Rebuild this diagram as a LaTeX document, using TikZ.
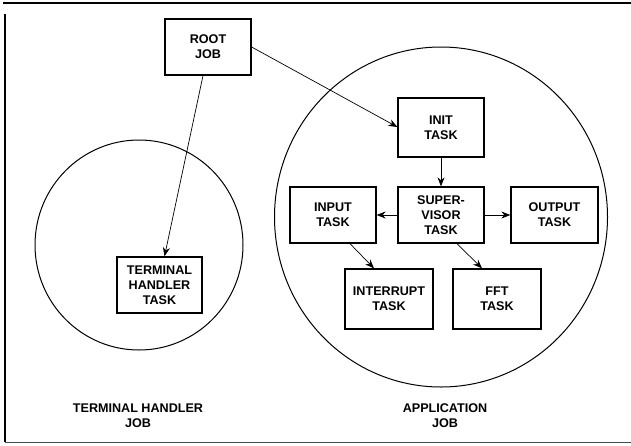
\documentclass[tikz,border=0pt]{standalone}
\usepackage{fontspec}
\setmainfont{Liberation Sans}
\usetikzlibrary{arrows.meta,shapes.geometric}
\begin{document}
\begin{tikzpicture}[x=1pt,y=-1pt,
  taskbox/.style={draw,line width=1.3pt,minimum width=86pt,minimum height=56pt,align=center,font=\bfseries\fontsize{12.6}{15}\selectfont,inner sep=0pt},
  conn/.style={line width=0.7pt,-{Stealth[length=9pt,width=7pt]}},
  lbl/.style={align=center,font=\bfseries\fontsize{12.6}{15}\selectfont}]
\useasboundingbox (0,0) rectangle (631,445);
% frame
\draw[line width=1.3pt] (3,3) -- (631,3);
\draw[line width=1.3pt] (5,14) -- (5,442);
\draw[line width=0.8pt,black!70] (5,442) -- (631,442);
% job circles
\node[draw,line width=1pt,ellipse,minimum width=208pt,minimum height=210pt,inner sep=0pt] (thjob) at (139,245) {};
\node[draw,line width=1pt,ellipse,minimum width=333pt,minimum height=340pt,inner sep=0pt] (appjob) at (441,217) {};
% boxes
\node[taskbox] (root) at (208,47) {ROOT\\JOB};
\node[taskbox,minimum height=59pt] (init) at (441,127.5) {INIT\\TASK};
\node[taskbox] (sup) at (441,215) {SUPER-\\VISOR\\TASK};
\node[taskbox] (input) at (333,215) {INPUT\\TASK};
\node[taskbox,minimum width=87pt] (output) at (554.5,215) {OUTPUT\\TASK};
\node[taskbox,minimum width=88pt,minimum height=60pt] (intr) at (389,299) {INTERRUPT\\TASK};
\node[taskbox,minimum width=88pt,minimum height=60pt] (fft) at (497,299) {FFT\\TASK};
\node[taskbox,minimum width=85pt] (term) at (159.5,285) {TERMINAL\\HANDLER\\TASK};
% labels
\node[lbl] (thlbl) at (138,416) {TERMINAL HANDLER\\JOB};
\node[lbl] (applbl) at (445,416) {APPLICATION\\JOB};
% connectors
\draw[conn] (root.east |- 0,47) -- (init.west |- 0,127);
\draw[conn] ([xshift=-5pt]root.south) -- ([xshift=5pt]term.north);
\draw[conn] (init.south) -- (sup.north);
\draw[conn] (sup.west) -- (input.east);
\draw[conn] (sup.east) -- (output.west);
\draw[conn] ([xshift=17pt]input.south) -- ([xshift=-15pt]intr.north);
\draw[conn] ([xshift=16pt]sup.south) -- ([xshift=-15pt]fft.north);
\end{tikzpicture}
\end{document}
